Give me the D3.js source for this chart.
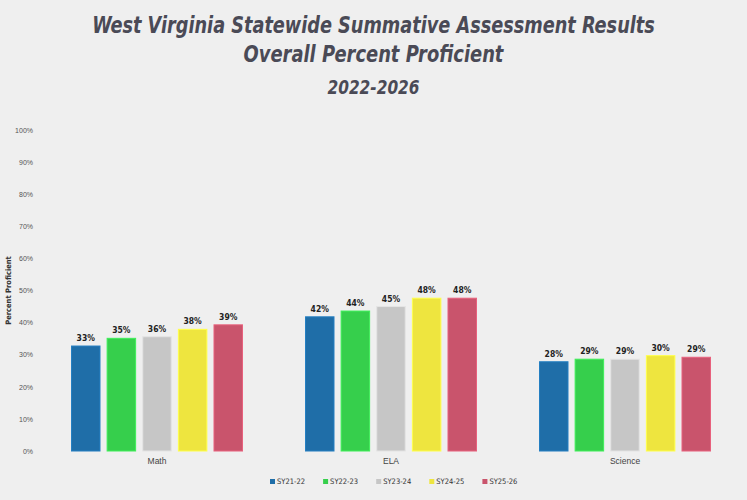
<!DOCTYPE html>
<html>
<head>
<meta charset="utf-8">
<script src="https://cdn.jsdelivr.net/npm/d3@7"></script>
<style>
  html, body { margin: 0; padding: 0; background: #efefef; }
  svg { display: block; font-family: "Liberation Sans Narrow", "DejaVu Sans Condensed", Roboto, sans-serif; }
</style>
</head>
<body>
<div id="chart"></div>
<script>
// chart data
var subjects = ["Math", "ELA", "Science"];
var years = ["SY21-22", "SY22-23", "SY23-24", "SY24-25", "SY25-26"];
var sy2122 = [32.7, 41.8, 27.8];
var sy2223 = [35.1, 43.6, 28.6];
var sy2324 = [35.6, 45.0, 28.6];
var sy2425 = [37.9, 47.6, 29.7];
var sy2526 = [39.3, 47.6, 29.2];
var yTicks = [0, 10, 20, 30, 40, 50, 60, 70, 80, 90, 100];
var colors = ["#1f6ea8", "#36cf4c", "#c6c6c6", "#eee53f", "#c9546c"];

var series = [sy2122, sy2223, sy2324, sy2425, sy2526];
var data = subjects.map(function (s, i) {
  return { subject: s, values: years.map(function (y, j) { return { year: y, value: series[j][i] }; }) };
});

var width = 747, height = 500;
var margin = { top: 130, right: 5, bottom: 49, left: 40 };

var svg = d3.select("#chart")
  .append("svg")
  .attr("width", width)
  .attr("height", height);

svg.append("rect").attr("width", width).attr("height", height).attr("fill", "#efefef");

// titles - squeezed horizontally to look like the condensed face in the original
var titles = [
  { t: "West Virginia Statewide Summative Assessment Results", y: 33, size: 23, len: 563 },
  { t: "Overall Percent Proficient", y: 62, size: 23, len: 260 },
  { t: "2022-2026", y: 94, size: 19, len: 92 }
];
svg.selectAll(".title")
  .data(titles)
  .enter().append("text")
  .attr("class", "title")
  .attr("text-anchor", "middle")
  .style("font-size", function (d) { return d.size + "px"; })
  .style("font-weight", "bold")
  .style("font-style", "italic")
  .style("fill", "#4a4a56")
  .text(function (d) { return d.t; })
  .attr("transform", function (d) {
    var s = Math.min(1, d.len / this.getComputedTextLength());
    return "translate(" + (width / 2) + "," + d.y + ") scale(" + s + ",1)";
  });

var x0 = d3.scaleBand()
  .domain(subjects)
  .range([margin.left, width - margin.right])
  .padding(0);

var x1 = d3.scaleBand()
  .domain(years)
  .range([31.5, x0.bandwidth() - 31.5])
  .paddingInner(0.2)
  .paddingOuter(0);

var y = d3.scaleLinear()
  .domain([0, 100])
  .range([height - margin.bottom, margin.top]);

// y axis
var yAxis = svg.append("g")
  .attr("transform", "translate(" + (margin.left - 4) + ",0)")
  .call(d3.axisLeft(y).tickValues(yTicks).tickSize(0).tickFormat(function (d) { return d + "%"; }));
yAxis.select(".domain").remove();
yAxis.selectAll("text")
  .style("font-size", "7px")
  .style("fill", "#555")
  .style("font-family", "inherit");

svg.append("text")
  .attr("transform", "translate(11," + ((margin.top + height - margin.bottom) / 2) + ") rotate(-90)")
  .attr("text-anchor", "middle")
  .style("font-size", "7.5px")
  .style("font-weight", "bold")
  .style("fill", "#333")
  .text("Percent Proficient");

// x axis labels
var xAxis = svg.append("g")
  .attr("transform", "translate(0," + (height - margin.bottom + 4) + ")")
  .call(d3.axisBottom(x0).tickSize(0));
xAxis.select(".domain").remove();
xAxis.selectAll("text")
  .style("font-size", "8.5px")
  .style("fill", "#444")
  .style("font-family", "inherit");

var color = d3.scaleOrdinal().domain(years).range(colors);

// bars
var groups = svg.append("g")
  .selectAll("g")
  .data(data)
  .enter().append("g")
  .attr("transform", function (d) { return "translate(" + x0(d.subject) + ",0)"; });

groups.selectAll("rect")
  .data(function (d) { return d.values; })
  .enter().append("rect")
  .attr("x", function (d) { return x1(d.year); })
  .attr("y", function (d) { return y(d.value); })
  .attr("width", x1.bandwidth())
  .attr("height", function (d) { return y(0) - y(d.value); })
  .attr("fill", function (d) { return color(d.year); })
  .attr("stroke", function (d) { return d3.color(color(d.year)).brighter(0.4); })
  .attr("stroke-width", 1);

groups.selectAll("text.val")
  .data(function (d) { return d.values; })
  .enter().append("text")
  .attr("class", "val")
  .attr("x", function (d) { return x1(d.year) + x1.bandwidth() / 2; })
  .attr("y", function (d) { return y(d.value) - 5; })
  .attr("text-anchor", "middle")
  .style("font-size", "8.5px")
  .style("font-weight", "bold")
  .style("fill", "#222")
  .text(function (d) { return Math.round(d.value) + "%"; });

// legend
var size = 5;
var legend = svg.selectAll(".legend")
  .data(years)
  .enter().append("g")
  .attr("class", "legend")
  .attr("transform", function (d, i) { return "translate(" + (270 + i * 53.1) + ",479)"; });
legend.append("rect")
  .attr("width", size)
  .attr("height", size)
  .attr("fill", function (d) { return color(d); });
legend.append("text")
  .attr("x", size + 2)
  .attr("y", size / 2)
  .attr("dominant-baseline", "middle")
  .style("font-size", "7.5px")
  .style("fill", "#333")
  .text(function (d) { return d; });
</script>
</body>
</html>
